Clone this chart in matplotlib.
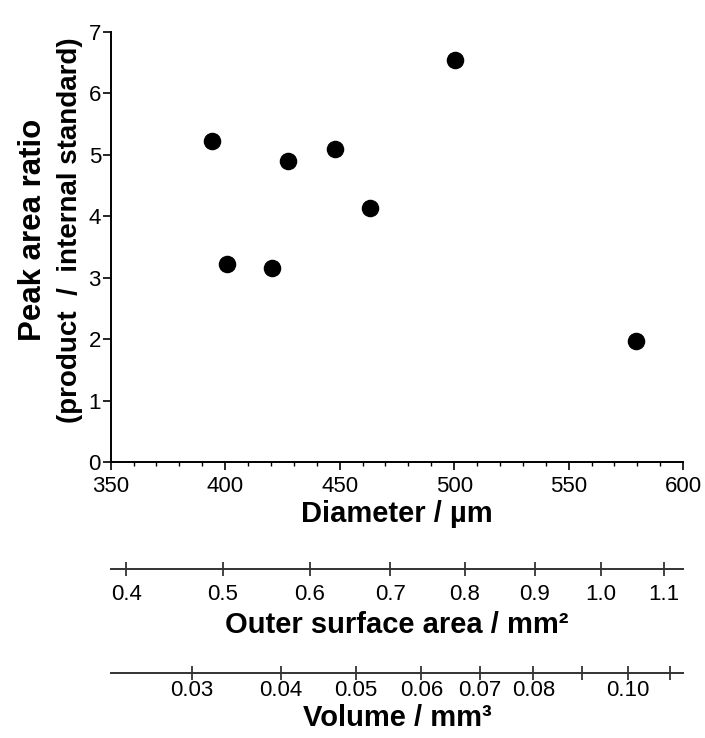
import numpy as np
import matplotlib
matplotlib.use("Agg")
import matplotlib.pyplot as plt
from matplotlib.ticker import MultipleLocator

plt.rcParams["font.family"] = ["Liberation Sans", "DejaVu Sans"]

# data
diameter = [394.2, 401.0, 420.6, 427.4, 447.8, 463.3, 500.5, 579.3]
peak_ratio = [5.22, 3.22, 3.15, 4.90, 5.09, 4.14, 6.54, 1.97]

area_ticks = [0.4, 0.5, 0.6, 0.7, 0.8, 0.9, 1.0, 1.1]
area_labels = ["0.4", "0.5", "0.6", "0.7", "0.8", "0.9", "1.0", "1.1"]
volume_ticks = [0.03, 0.04, 0.05, 0.06, 0.07, 0.08, 0.09, 0.10, 0.11]
volume_labels = ["0.03", "0.04", "0.05", "0.06", "0.07", "0.08", "", "0.10", ""]


def d_to_area(d):
    d = np.asarray(d, dtype=float)
    return np.pi * (d / 1000.0) ** 2


def area_to_d(a):
    a = np.clip(np.asarray(a, dtype=float), 1e-12, None)
    return 1000.0 * np.sqrt(a / np.pi)


def d_to_vol(d):
    d = np.asarray(d, dtype=float)
    return np.pi * (d / 1000.0) ** 3 / 6.0


def vol_to_d(v):
    v = np.clip(np.asarray(v, dtype=float), 1e-12, None)
    return 1000.0 * np.cbrt(6.0 * v / np.pi)


fig = plt.figure(figsize=(7.05, 7.38), dpi=100)
ax = fig.add_axes([0.157, 0.374, 0.812, 0.583])

ax.scatter(diameter, peak_ratio, s=135, color="black", zorder=3)

ax.set_xlim(350, 600)
ax.set_ylim(0, 7)
ax.xaxis.set_major_locator(MultipleLocator(50))
ax.xaxis.set_minor_locator(MultipleLocator(10))
ax.yaxis.set_major_locator(MultipleLocator(1))

for s in ["top", "right"]:
    ax.spines[s].set_visible(False)
for s in ["left", "bottom"]:
    ax.spines[s].set_linewidth(1.4)

tick_fs = 16
label_fs = 21

ax.tick_params(axis="both", which="major", direction="out", length=6, width=1.2,
               labelsize=tick_fs, pad=1)
ax.tick_params(axis="x", which="major", pad=4)
ax.tick_params(axis="x", which="minor", direction="out", length=3, width=1.0)

ax.set_xlabel("Diameter / µm", fontsize=label_fs, fontweight="bold", labelpad=2)

# two-line y label, drawn as two texts
fig.text(0.047, 0.688, "Peak area ratio", rotation=90, ha="center", va="center",
         fontsize=22.5, fontweight="bold")
fig.text(0.099, 0.688, "(product  /  internal standard)", rotation=90,
         ha="center", va="center", fontsize=20, fontweight="bold")

sec_area = ax.secondary_xaxis(-0.249, functions=(d_to_area, area_to_d))
sec_area.set_xticks(area_ticks, area_labels)
sec_area.tick_params(direction="inout", length=10, width=1.2, labelsize=tick_fs,
                     pad=6, colors="#222222", labelcolor="black")
sec_area.spines["bottom"].set_linewidth(1.4)
sec_area.spines["bottom"].set_color("#333333")
sec_area.set_xlabel("Outer surface area / mm²", fontsize=label_fs, fontweight="bold",
                    labelpad=4)

sec_vol = ax.secondary_xaxis(-0.491, functions=(d_to_vol, vol_to_d))
sec_vol.set_xticks(volume_ticks, volume_labels)
sec_vol.tick_params(direction="inout", length=10, width=1.2, labelsize=tick_fs,
                    pad=0, colors="#222222", labelcolor="black")
sec_vol.spines["bottom"].set_linewidth(1.4)
sec_vol.spines["bottom"].set_color("#333333")
sec_vol.set_xlabel("Volume / mm³", fontsize=label_fs, fontweight="bold", labelpad=2)

fig.savefig("out.png", dpi=100)
